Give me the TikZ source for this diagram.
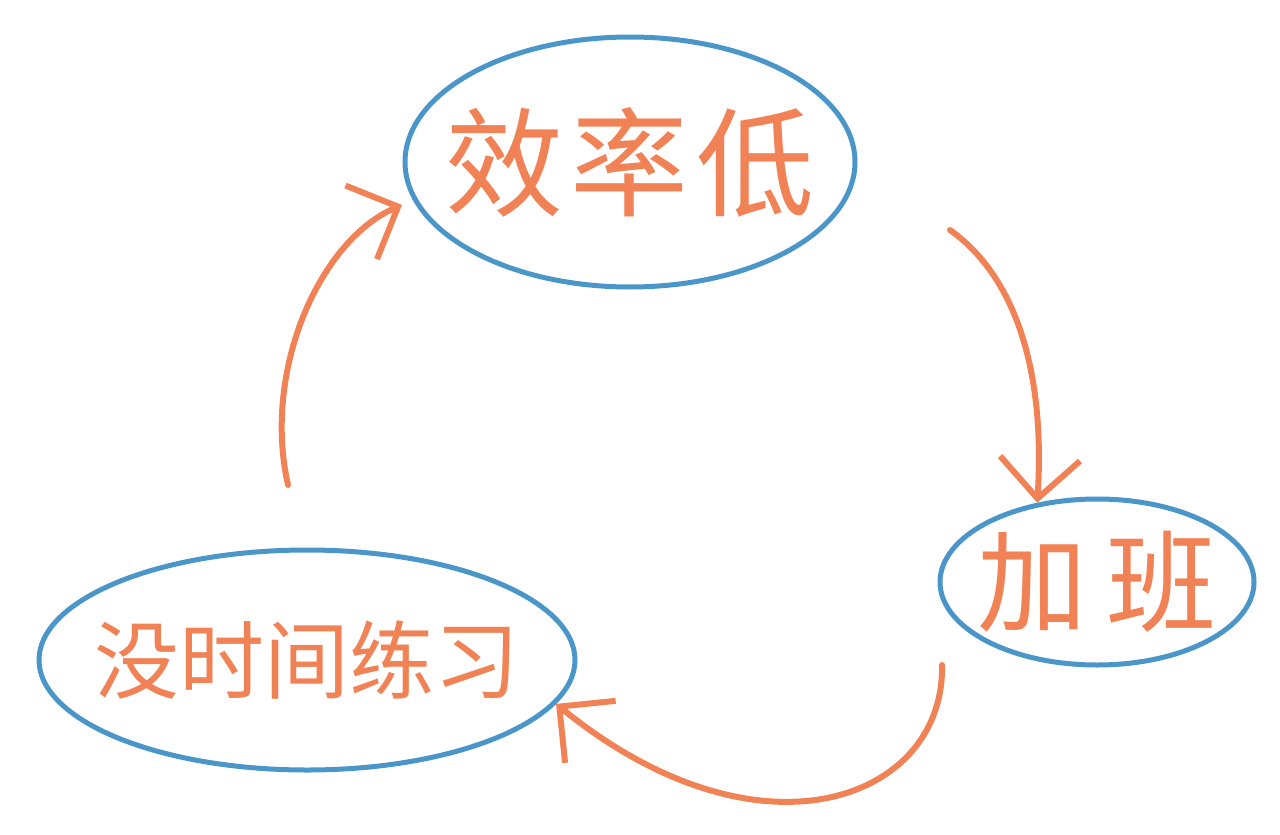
\documentclass[tikz,border=0pt]{standalone}
\usepackage{fontspec}
\newfontfamily\cjk{Noto Sans CJK SC}
\usetikzlibrary{shapes.geometric,arrows.meta}
\definecolor{pen}{RGB}{240,130,85}
\definecolor{ink}{RGB}{75,150,200}
\begin{document}
\begin{tikzpicture}[x=1pt,y=-1pt,
  bubble/.style={ellipse, draw=ink, line width=5pt, text=pen, inner sep=-45pt},
  arr/.style={pen, line width=6pt, line cap=round, -{Straight Barb[length=40pt,width=80pt]}}]
  \useasboundingbox (0,0) rectangle (1280,835);
  % the three states
  \node[bubble, minimum width=450, minimum height=250] (xiaolv) at (630,162)
    {\cjk\fontsize{118}{118}\selectfont 效\hspace{8pt}率\hspace{8pt}低};
  \node[bubble, minimum width=314, minimum height=166] (jiaban) at (1097,582)
    {\cjk\fontsize{110}{110}\selectfont 加\hspace{20pt}班};
  \node[bubble, minimum width=536, minimum height=220] (lianxi) at (307,660)
    {\cjk\fontsize{85}{85}\selectfont 没时间练习};
  % the cycle
  \coordinate (s1) at (950,230);
  \coordinate (s2) at (942,665);
  \coordinate (s3) at (288,485);
  \draw[arr] (s1) .. controls (1020,280) and (1045,380) .. (jiaban.127);
  \draw[arr] (s2) .. controls (945,800) and (760,870) .. (lianxi.-10);
  \draw[arr, shorten >=12pt] (s3) .. controls (262,370) and (320,240) .. (xiaolv.190);
\end{tikzpicture}
\end{document}
